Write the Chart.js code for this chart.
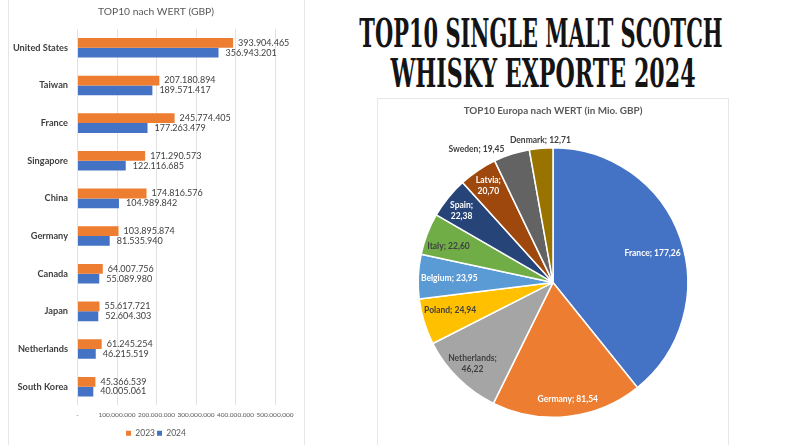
<!DOCTYPE html>
<html>
<head>
<meta charset="utf-8">
<script src="https://cdn.jsdelivr.net/npm/chart.js@4"></script>
<style>
  html, body { margin: 0; padding: 0; background: #fff; overflow: hidden; }
  body { width: 800px; height: 445px; position: relative; }
  .card { position: absolute; box-sizing: border-box; border: 1px solid #e6e6e6; }
  #barCard { left: 8px; top: -2px; width: 297px; height: 450px; border-top: 0; }
  #pieCard { left: 377px; top: 98px; width: 352px; height: 350px; }
  canvas { position: absolute; }
  #traffic { left: 8px; top: 0; }
  #pie { left: 378px; top: 98px; }
  .head {
    position: absolute; display: inline-block; white-space: nowrap; color: #141414;
    font: bold 39px "DejaVu Serif Condensed", "DejaVu Serif", serif; line-height: 40px;
  }
</style>
</head>
<body>
<div class="card" id="barCard"></div>
<div class="card" id="pieCard"></div>
<div class="head" id="head1" style="left:540.5px;top:13px;">TOP10 SINGLE MALT SCOTCH</div>
<div class="head" id="head2" style="left:542.5px;top:53px;">WHISKY EXPORTE 2024</div>
<canvas id="traffic" width="296" height="450" style="width:296px;height:450px"></canvas>
<canvas id="pie" width="350" height="347" style="width:350px;height:347px"></canvas>
<script>
// BARS
var countries = ['United States', 'Taiwan', 'France', 'Singapore', 'China', 'Germany', 'Canada', 'Japan', 'Netherlands', 'South Korea'];
var values2023 = [393904465, 207180894, 245774405, 171290573, 174816576, 103895874, 64007756, 55617721, 61245254, 45366539];
var values2024 = [356943201, 189571417, 177263479, 122116685, 104989842, 81535940, 55089980, 52604303, 46215519, 40005061];
var xTicks = [0, 100000000, 200000000, 300000000, 400000000, 500000000];

// PIE
var europe = ['France', 'Germany', 'Netherlands', 'Poland', 'Belgium', 'Italy', 'Spain', 'Latvia', 'Sweden', 'Denmark'];
var europeValues = [177.26, 81.54, 46.22, 24.94, 23.95, 22.60, 22.38, 20.70, 19.45, 12.71];

var pieColors = ['#4472C4', '#ED7D31', '#A5A5A5', '#FFC000', '#5B9BD5', '#70AD47', '#264478', '#9E480E', '#636363', '#997300'];
var pieTextColors = ['#fff', '#fff', '#404040', '#404040', '#fff', '#404040', '#fff', '#fff', '#404040', '#404040'];
// where each label sits: fraction of the radius, angle shift in degrees, broken in two lines
var labelRadius = [0.77, 0.87, 0.85, 0.79, 0.77, 0.82, 0.86, 0.86, 1.14, 1.06];
var labelShift = [3, -1, 0, 2, 0, -2, -1, 0, -12, 0];
var labelBroken = [false, false, true, false, false, false, true, true, false, false];

var FONT = 'Lato';
var xAxisMax = 573400000; // axis runs on past the last tick, to the edge of the card
var dots = new Intl.NumberFormat('de-DE');
var commas = new Intl.NumberFormat('de-DE', { minimumFractionDigits: 2, maximumFractionDigits: 2 });

var barLabels = {
  id: 'barLabels',
  afterDatasetsDraw: function (chart) {
    var c = chart.ctx;
    c.save();
    c.font = '9px ' + FONT;
    c.fillStyle = '#404040';
    c.textBaseline = 'middle';
    chart.data.datasets.forEach(function (ds, d) {
      chart.getDatasetMeta(d).data.forEach(function (bar, i) {
        c.fillText(dots.format(ds.data[i]), bar.x + (d === 0 ? 5 : 7), bar.y);
      });
    });
    c.restore();
  }
};

var pieLabels = {
  id: 'pieLabels',
  afterDatasetsDraw: function (chart) {
    var c = chart.ctx;
    c.save();
    c.font = 'bold 8.5px ' + FONT;
    c.textAlign = 'center';
    c.textBaseline = 'middle';
    chart.getDatasetMeta(0).data.forEach(function (arc, i) {
      var mid = (arc.startAngle + arc.endAngle) / 2 + labelShift[i] * Math.PI / 180;
      var x = arc.x + Math.cos(mid) * arc.outerRadius * labelRadius[i];
      var y = arc.y + Math.sin(mid) * arc.outerRadius * labelRadius[i];
      var num = commas.format(europeValues[i]);
      c.fillStyle = pieTextColors[i];
      if (labelBroken[i]) {
        c.fillText(europe[i] + ';', x, y - 5.5);
        c.fillText(num, x, y + 5.5);
      } else {
        c.fillText(europe[i] + '; ' + num, x, y);
      }
    });
    c.restore();
  }
};

new Chart(document.getElementById('traffic'), {
  type: 'bar',
  data: {
    labels: countries,
    datasets: [
      { label: '2023', data: values2023, backgroundColor: '#ED7D31', categoryPercentage: 0.52, barPercentage: 1 },
      { label: '2024', data: values2024, backgroundColor: '#4472C4', categoryPercentage: 0.52, barPercentage: 1 }
    ]
  },
  options: {
    indexAxis: 'y',
    responsive: false,
    animation: false,
    layout: { padding: { bottom: 2.4 } },
    scales: {
      x: {
        min: 0, max: xAxisMax,
        afterBuildTicks: function (s) { s.ticks = xTicks.map(function (v) { return { value: v }; }); },
        afterFit: function (s) { s.height = 21.6; },
        grid: { color: '#e2e2e2', drawTicks: false },
        border: { display: false },
        ticks: {
          autoSkip: false, maxRotation: 0, padding: 5.5,
          color: '#595959', font: { family: FONT, size: 6.5 },
          callback: function (v) { return v === 0 ? '-' : dots.format(v); }
        }
      },
      y: {
        afterFit: function (s) { s.width = 69.5; },
        grid: { display: false, drawTicks: false },
        border: { display: false },
        ticks: { autoSkip: false, padding: 9.5, color: '#404040', font: { family: FONT, size: 9.2, weight: 'bold' } }
      }
    },
    plugins: {
      title: {
        display: true, text: 'TOP10 nach WERT (GBP)', color: '#595959',
        font: { family: FONT, size: 10.3, weight: 'normal' }, padding: { top: 5.6, bottom: 11 }
      },
      legend: {
        position: 'bottom',
        labels: { color: '#595959', font: { family: FONT, size: 8.5 }, boxWidth: 5, boxHeight: 5, padding: 2 }
      },
      tooltip: { enabled: false }
    }
  },
  plugins: [barLabels]
});

new Chart(document.getElementById('pie'), {
  type: 'pie',
  data: {
    labels: europe,
    datasets: [{ data: europeValues, backgroundColor: pieColors, borderColor: '#fff', borderWidth: 1.5 }]
  },
  options: {
    responsive: false,
    animation: false,
    layout: { padding: { bottom: 27 } },
    plugins: {
      title: {
        display: true, text: 'TOP10 Europa nach WERT (in Mio. GBP)', color: '#595959',
        font: { family: FONT, size: 9.9, weight: 'bold' }, padding: { top: 7, bottom: 30 }
      },
      legend: { display: false },
      tooltip: { enabled: false }
    }
  },
  plugins: [pieLabels]
});

// squeeze the headline to the width it has in the picture
function fit(id, wanted) {
  var el = document.getElementById(id);
  el.style.transform = 'translateX(-50%) scaleX(' + wanted / el.offsetWidth + ')';
}
fit('head1', 363);
fit('head2', 305);
</script>
</body>
</html>
